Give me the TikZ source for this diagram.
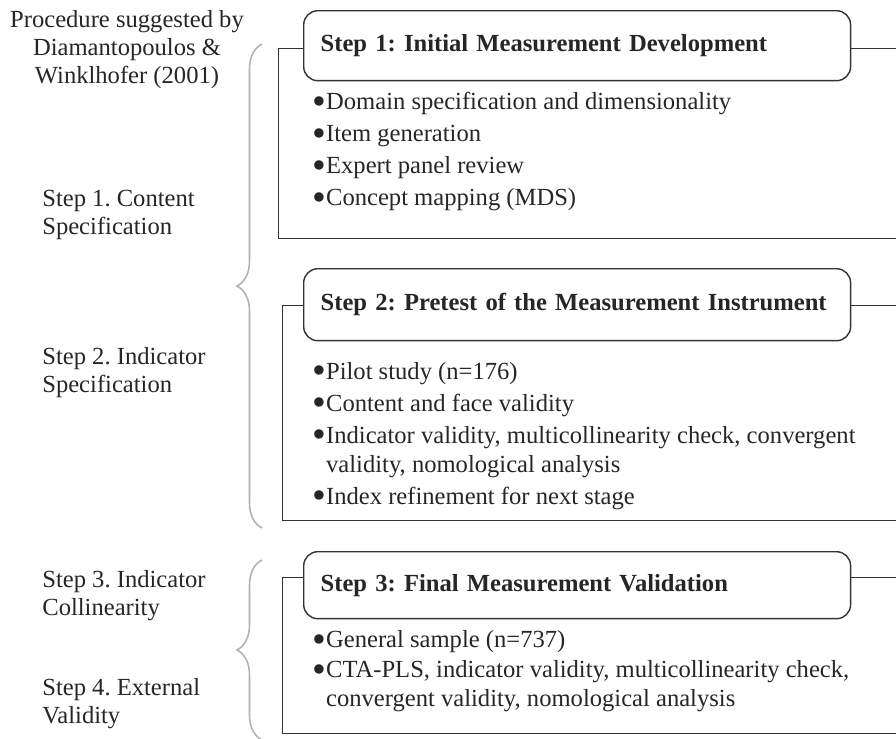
\documentclass[tikz,border=0pt]{standalone}
\usepackage{fontspec}
\setmainfont{Liberation Serif}
\usetikzlibrary{positioning,decorations.pathreplacing}
\frenchspacing
\newcommand\itm{\raisebox{-2.6pt}[0pt][0pt]{\scalebox{1.6}{•}}}

\begin{document}
\begin{tikzpicture}[
x=0.02cm,y=-0.02cm,
font=\fontsize{14}{16.5}\selectfont,
every node/.append style={text=black!85},
frame/.style={
	draw=black!80,
	line width=0.8pt,
	anchor=north west,
	minimum width=12.8cm,
	inner sep=0pt
},
stephead/.style={
	draw=black!80,
	line width=0.8pt,
	rounded corners=8pt,
	fill=white,
	anchor=north west,
	minimum width=10.94cm,
	text width=10.26cm,
	inner xsep=0.34cm,
	align=left,
	font=\fontsize{14}{16.5}\selectfont\bfseries
},
items/.style={
	anchor=north west,
	align=left,
	inner sep=0pt
},
sidelabel/.style={
	anchor=north west,
	align=left,
	inner sep=0pt,
	font=\fontsize{14}{15.9}\selectfont
},
bracket/.style={
	draw=black!30,
	line width=0.9pt,
	decorate,
	decoration={brace,amplitude=0.5cm}
}
]
\clip (0,0) rectangle (896,738);

\node[sidelabel,anchor=north,align=center] (title) at (127,10)
	{Procedure suggested by\\Diamantopoulos \&\\Winklhofer (2001)};

\foreach \y/\t [count=\i] in {190/{Step 1. Content\\Specification},
	347/{Step 2. Indicator\\Specification},
	570/{Step 3. Indicator\\Collinearity},
	678/{Step 4. External\\Validity}}
\node[sidelabel] (side\i) at (42,\y) {\t};

% outer frames, cut at the right edge
\node[frame,minimum height=3.8cm] (box1) at (278,48) {};
\node[frame,minimum height=4.3cm] (box2) at (282,305) {};
\node[frame,minimum height=3.12cm] (box3) at (282,577) {};

\node[stephead,minimum height=1.4cm] (head1) at (303,10)
	{Step 1: Initial Measurement Development};
\node[stephead,minimum height=1.44cm] (head2) at (303,268)
	{Step 2: Pretest of the Measurement Instrument};
\node[stephead,minimum height=1.34cm] (head3) at (303,551)
	{Step 3: Final Measurement Validation};

\node[items] (list1) at (312,92) {\itm Domain specification and dimensionality\\[1.7pt]
	\itm Item generation\\[1.7pt]
	\itm Expert panel review\\[1.7pt]
	\itm Concept mapping (MDS)};
\node[items] (list2) at (312,362) {\itm Pilot study (n=176)\\[1.7pt]
	\itm Content and face validity\\[1.7pt]
	\itm Indicator validity, multicollinearity check, convergent\\
	\phantom{\itm}validity, nomological analysis\\[1.7pt]
	\itm Index refinement for next stage};
\node[items] (list3) at (312,630) {\itm General sample (n=737)\\[0.6pt]
	\itm CTA-PLS, indicator validity, multicollinearity check,\\
	\phantom{\itm}convergent validity, nomological analysis};

\coordinate (b1top) at (262,44);
\coordinate (b1bot) at (262,528);
\coordinate (b2top) at (262,560);
\coordinate (b2bot) at (262,740);
\draw[bracket] (b1bot) -- (b1top);
\draw[bracket] (b2bot) -- (b2top);
\end{tikzpicture}
\end{document}
